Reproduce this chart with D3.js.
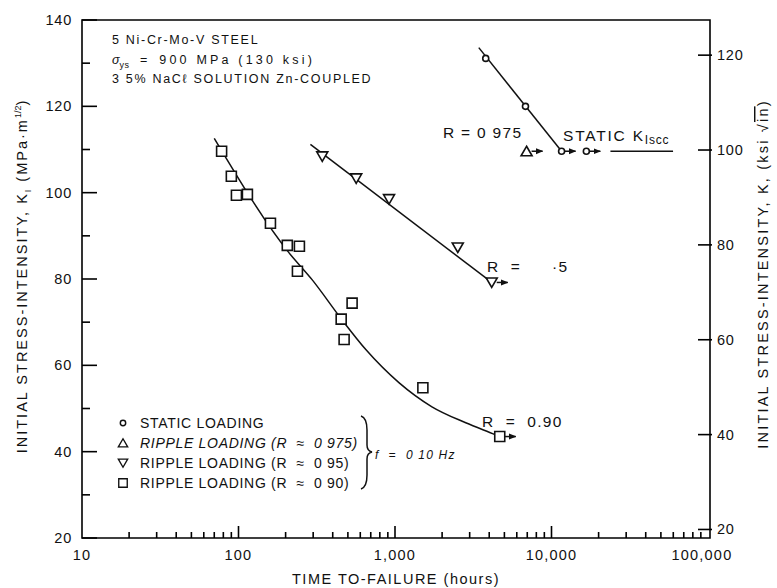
<!DOCTYPE html>
<head>
  <meta charset="utf-8">
  <style>
  body { margin: 0; background: #fff; }
  * { font-family: "Liberation Sans", Arial, Helvetica, sans-serif; }
  .axis-line { stroke: #000; stroke-width: 1.6px; fill: none; }
  .fit { stroke: #111; stroke-width: 1.5px; fill: none; }
  .mark { stroke: #111; stroke-width: 1.6px; fill: #fff; }
  text { fill: #111; white-space: pre; }
  </style>
  <title>Time to failure</title>
</head>
<body>
  <svg width="777" height="588"></svg>
  <script src="https://d3js.org/d3.v7.min.js"></script>
  <script>
  // data: [time (h), K (MPa m^1/2)]
  var staticPts = [[3800, 131.1], [6820, 120.0], [11600, 109.6], [16700, 109.6]];
  var staticRunout = [false, false, true, true];
  var r975Pts = [[6930, 109.6]];
  var r975Runout = [true];
  var r95Pts = [[343, 108.4], [565, 103.3], [916, 98.5], [2518, 87.3], [4150, 79.2]];
  var r95Runout = [false, false, false, false, true];
  var r90Pts = [[78, 109.6], [90, 103.8], [97, 99.4], [114, 99.6], [160, 92.9], [205, 87.8],
                [245, 87.6], [238, 81.8], [453, 70.7], [473, 66.0], [532, 74.4], [1507, 54.8], [4670, 43.5]];
  var r90Runout = [false, false, false, false, false, false, false, false, false, false, false, false, true];

  var staticFit = [[3430, 133.6], [11600, 109.6]];
  var kisccLine = [[23800, 109.6], [59800, 109.6]];
  var r95Fit = [[288, 111.2], [4150, 79.2]];
  var r90Fit = [[70, 112.6], [211, 86.0], [296, 79.8], [453, 70.8], [653, 63.6], [1059, 56.0],
                [1722, 50.4], [2831, 46.7], [4395, 43.9], [4670, 43.5]];

  var xTicks = [10, 100, 1000, 10000, 100000];
  var xTickLabels = ["10", "100", "1,000", "10,000", "100,000"];
  var leftTicks = [20, 40, 60, 80, 100, 120, 140];
  var leftMinor = [30, 50, 70, 90, 110, 130];
  var rightTicks = [20, 40, 60, 80, 100, 120];
  var KSI_TO_MPA = 1.0988;

  var svg = d3.select("svg");
  var pLeft = 82, pRight = 710, pTop = 20, pBottom = 538;

  var x = d3.scaleLog().domain([10, 100000]).range([pLeft, pRight - 2]);
  var y = d3.scaleLinear().domain([20, 140]).range([pBottom, pTop]);
  var yKsi = d3.scaleLinear().domain([20 / KSI_TO_MPA, 140 / KSI_TO_MPA]).range([pBottom, pTop]);

  // frame
  svg.append("path").attr("class", "axis-line")
      .attr("d", "M" + pLeft + "," + pTop + "H" + pRight + "V" + pBottom + "H" + pLeft + "Z");

  // bottom ticks (inside)
  var minorX = [];
  for (var e = 1; e < 5; e++) for (var m = 2; m < 10; m++) minorX.push(m * Math.pow(10, e));
  svg.append("g").selectAll("line").data(minorX).enter().append("line")
      .attr("class", "axis-line").attr("stroke-width", 1.3)
      .attr("x1", function(d) { return x(d); }).attr("x2", function(d) { return x(d); })
      .attr("y1", pBottom).attr("y2", pBottom - 6);
  svg.append("g").selectAll("line").data(xTicks.slice(1, 4)).enter().append("line")
      .attr("class", "axis-line")
      .attr("x1", function(d) { return x(d); }).attr("x2", function(d) { return x(d); })
      .attr("y1", pBottom).attr("y2", pBottom - 12);
  svg.append("g").selectAll("text").data(xTicks).enter().append("text")
      .attr("x", function(d, i) { return x(d) - (i === 4 ? 6 : 0); })
      .attr("y", 560).attr("text-anchor", "middle").attr("font-size", 14.5)
      .attr("letter-spacing", 1.2)
      .text(function(d, i) { return xTickLabels[i]; });

  // left ticks
  svg.append("g").selectAll("line").data(leftTicks).enter().append("line")
      .attr("class", "axis-line")
      .attr("x1", pLeft).attr("x2", pLeft + 15)
      .attr("y1", function(d) { return y(d); }).attr("y2", function(d) { return y(d); });
  svg.append("g").selectAll("line").data(leftMinor).enter().append("line")
      .attr("class", "axis-line")
      .attr("x1", pLeft).attr("x2", pLeft + 8)
      .attr("y1", function(d) { return y(d); }).attr("y2", function(d) { return y(d); });
  svg.append("g").selectAll("text").data(leftTicks).enter().append("text")
      .attr("x", 72).attr("y", function(d) { return y(d) + 5; })
      .attr("text-anchor", "end").attr("font-size", 14.5).attr("letter-spacing", 0.8)
      .text(function(d) { return d; });

  // right ticks (ksi)
  svg.append("g").selectAll("line").data(rightTicks).enter().append("line")
      .attr("class", "axis-line")
      .attr("x1", pRight - 12).attr("x2", pRight + 2)
      .attr("y1", function(d) { return yKsi(d); }).attr("y2", function(d) { return yKsi(d); });
  svg.append("g").selectAll("text").data(rightTicks).enter().append("text")
      .attr("x", 717).attr("y", function(d) { return yKsi(d) + 5; })
      .attr("font-size", 14.5).attr("letter-spacing", 0.8)
      .text(function(d) { return d; });

  // axis titles
  svg.append("text").attr("x", 396).attr("y", 584).attr("text-anchor", "middle")
      .attr("font-size", 14.5).attr("letter-spacing", 1.5).text("TIME TO-FAILURE (hours)");

  var lt = svg.append("text").attr("transform", "translate(27,276) rotate(-90)")
      .attr("text-anchor", "middle").attr("font-size", 14.5).attr("letter-spacing", 2);
  lt.append("tspan").text("INITIAL STRESS-INTENSITY, K");
  lt.append("tspan").attr("font-size", 9).attr("dy", 4).text("I");
  lt.append("tspan").attr("dy", -4).text(" (MPa\u00b7m");
  lt.append("tspan").attr("font-size", 9).attr("letter-spacing", 0).attr("dy", -6).text("1/2");
  lt.append("tspan").attr("dy", 6).text(")");

  var rt = svg.append("text").attr("transform", "translate(768,274) rotate(-90)")
      .attr("text-anchor", "middle").attr("font-size", 14.5).attr("letter-spacing", 2.2);
  rt.append("tspan").text("INITIAL STRESS-INTENSITY, K, (ksi \u221a");
  rt.append("tspan").attr("text-decoration", "overline").text("in");
  rt.append("tspan").text(")");

  // notes
  var notes = svg.append("g").attr("font-size", 12.5).attr("letter-spacing", 1.7);
  notes.append("text").attr("x", 112).attr("y", 44).text("5 Ni-Cr-Mo-V STEEL");
  var n2 = notes.append("text").attr("x", 112).attr("y", 64);
  n2.append("tspan").attr("font-style", "italic").attr("letter-spacing", 0).text("\u03c3");
  n2.append("tspan").attr("font-size", 9).attr("letter-spacing", 0.5).attr("dy", 4).text("ys");
  n2.append("tspan").attr("dy", -4).text("  =  ");
  n2.append("tspan").attr("letter-spacing", 3.2).text("900 MPa (130 ksi)");
  notes.append("text").attr("x", 112).attr("y", 83).text("3 5% NaC\u2113 SOLUTION Zn-COUPLED");

  // fit lines
  var line = d3.line().x(function(d) { return x(d[0]); }).y(function(d) { return y(d[1]); });
  svg.append("path").attr("class", "fit").attr("d", line(staticFit));
  svg.append("path").attr("class", "fit").attr("d", line(kisccLine));
  svg.append("path").attr("class", "fit").attr("d", line(r95Fit));
  svg.append("path").attr("class", "fit").attr("d", line.curve(d3.curveMonotoneX)(r90Fit));

  // markers
  var shapes = {
    circle: "M-3,0a3,3 0 1,0 6,0a3,3 0 1,0 -6,0Z",
    up: "M0,-5L5.5,4.5H-5.5Z",
    down: "M0,5L5.5,-4.5H-5.5Z",
    square: "M-5,-5H5V5H-5Z"
  };
  svg.append("defs").append("marker").attr("id", "arrow")
      .attr("viewBox", "0 0 10 10").attr("refX", 9).attr("refY", 5)
      .attr("markerWidth", 5).attr("markerHeight", 5).attr("markerUnits", "strokeWidth")
      .attr("orient", "auto")
    .append("path").attr("d", "M0,1L10,5L0,9Z").attr("fill", "#111");

  function drawSeries(pts, runout, shape, rad) {
    var g = svg.append("g");
    g.selectAll("line").data(pts.filter(function(d, i) { return runout[i]; }))
      .enter().append("line")
        .attr("stroke", "#111").attr("stroke-width", 1.5)
        .attr("x1", function(d) { return x(d[0]) + rad; })
        .attr("x2", function(d) { return x(d[0]) + rad + 11; })
        .attr("y1", function(d) { return y(d[1]); }).attr("y2", function(d) { return y(d[1]); })
        .attr("marker-end", "url(#arrow)");
    g.selectAll("path").data(pts).enter().append("path")
        .attr("class", "mark").attr("d", shapes[shape])
        .attr("transform", function(d) { return "translate(" + x(d[0]) + "," + y(d[1]) + ")"; });
  }
  drawSeries(r90Pts, r90Runout, "square", 5);
  drawSeries(r95Pts, r95Runout, "down", 5);
  drawSeries(r975Pts, r975Runout, "up", 5);
  drawSeries(staticPts, staticRunout, "circle", 3);

  // curve labels
  var lab = svg.append("g").attr("font-size", 15.5).attr("letter-spacing", 1.3);
  lab.append("text").attr("x", 443).attr("y", 138).text("R = 0 975");
  var ks = lab.append("text").attr("x", 563).attr("y", 141).attr("letter-spacing", 1.8).text("STATIC K");
  ks.append("tspan").attr("font-size", 12).attr("dy", 3).attr("letter-spacing", 0.8)
      .attr("font-family", "Liberation Serif, serif").text("Iscc");
  lab.append("text").attr("x", 487).attr("y", 272).text("R  =");
  lab.append("text").attr("x", 552).attr("y", 272).text("\u00b75");
  lab.append("text").attr("x", 482).attr("y", 427).text("R  =  0.90");

  // legend
  var legRows = ["STATIC LOADING", "RIPPLE LOADING (R  \u2248  0 975)", "RIPPLE LOADING (R  \u2248  0 95)", "RIPPLE LOADING (R  \u2248  0 90)"];
  var legShapes = ["circle", "up", "down", "square"];
  var leg = svg.append("g").attr("font-size", 14).attr("letter-spacing", 0.7);
  legRows.forEach(function(t, i) {
    var cy = 423 + i * 20;
    leg.append("path").attr("class", "mark").attr("d", shapes[legShapes[i]])
        .attr("transform", "translate(123," + cy + ") scale(" + (i === 0 ? 0.9 : 0.85) + ")");
    leg.append("text").attr("x", 140).attr("y", cy + 5)
        .attr("font-style", i === 1 ? "italic" : "normal").text(t);
  });
  svg.append("path").attr("class", "fit").attr("stroke-width", 1.3)
      .attr("d", "M361,416Q367,418 367,430L367,445Q367,451 372,452Q367,453 367,459L367,475Q367,487 361,489");
  svg.append("text").attr("x", 375).attr("y", 459).attr("font-size", 12)
      .attr("letter-spacing", 1.2).attr("font-style", "italic").text("f  =  0 10 Hz");
  </script>
</body>
